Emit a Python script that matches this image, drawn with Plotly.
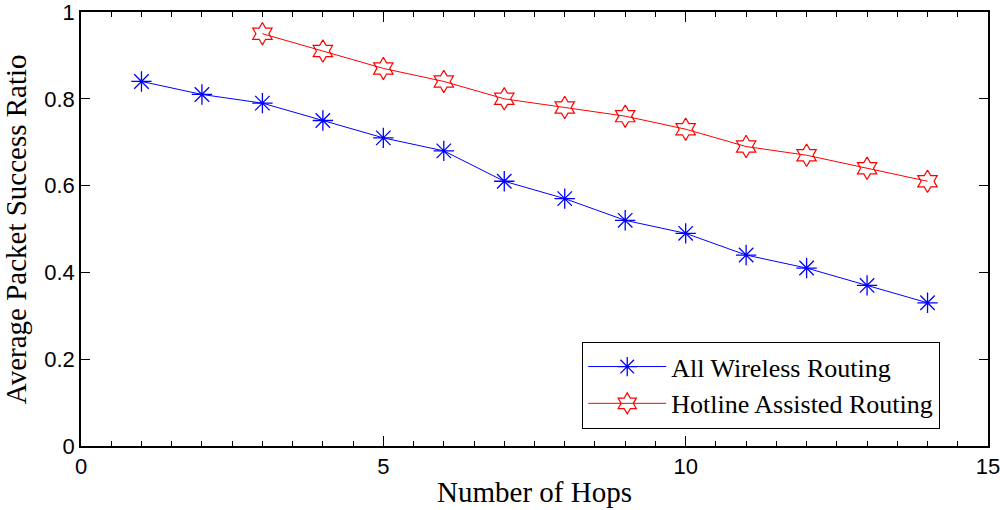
import plotly.graph_objects as go

# hops
hops_wireless = [1, 2, 3, 4, 5, 6, 7, 8, 9, 10, 11, 12, 13, 14]
hops_hotline = [3, 4, 5, 6, 7, 8, 9, 10, 11, 12, 13, 14]

# average packet success ratio
ratio_wireless = [0.84, 0.81, 0.79, 0.75, 0.71, 0.68, 0.61, 0.57, 0.52, 0.49, 0.44, 0.41, 0.37, 0.33]
ratio_hotline = [0.95, 0.91, 0.87, 0.84, 0.80, 0.78, 0.76, 0.73, 0.69, 0.67, 0.64, 0.61]

x_ticks = [0, 5, 10, 15]
y_ticks = [0, 0.2, 0.4, 0.6, 0.8, 1]
y_labels = ["0", "0.2", "0.4", "0.6", "0.8", "1"]

SERIF = "Liberation Serif, Times New Roman, serif"
SANS = "Liberation Sans, Arial, sans-serif"

fig = go.Figure()

fig.add_trace(go.Scatter(
    x=hops_wireless, y=ratio_wireless,
    name="All Wireless Routing",
    mode="lines+markers",
    line=dict(color="#0000ff", width=1),
    marker=dict(symbol="asterisk-open", size=17, color="#0000ff",
                line=dict(color="#0000ff", width=1.3)),
))

fig.add_trace(go.Scatter(
    x=hops_hotline, y=ratio_hotline,
    name="Hotline Assisted Routing",
    mode="lines+markers",
    line=dict(color="#ff0000", width=1),
    marker=dict(symbol="hexagram-open", size=17, color="#ff0000",
                line=dict(color="#ff0000", width=1.2)),
))

axis_common = dict(
    showgrid=False, zeroline=False, automargin=False,
    showline=True, linecolor="black", linewidth=1.5,
    mirror="ticks", ticks="inside", tickcolor="black", tickwidth=1.3,
    ticklabeloverflow="allow",
    tickfont=dict(family=SANS, size=22, color="black"),
)

fig.update_xaxes(
    range=[0, 15], tickvals=x_ticks, ticklen=10,
    minor=dict(dtick=0.5, ticks="inside", ticklen=5, tickcolor="black", tickwidth=1.3),
    title=dict(text="Number of Hops", standoff=4,
               font=dict(family=SERIF, size=29, color="black")),
    **axis_common,
)
fig.update_yaxes(
    range=[0, 1], tickvals=y_ticks, ticktext=y_labels, ticklen=9,
    **axis_common,
)

# y title as an annotation so it can sit close to the page edge like the original
fig.add_annotation(
    text="Average Packet Success Ratio",
    xref="paper", yref="paper", x=-0.0715, y=0.5,
    xanchor="center", yanchor="middle", textangle=-90, showarrow=False,
    font=dict(family=SERIF, size=29, color="black"),
)

fig.update_layout(
    template="none",
    width=1000, height=510,
    margin=dict(l=81, r=12, t=12, b=64),
    plot_bgcolor="white", paper_bgcolor="white",
    showlegend=True,
    legend=dict(
        x=0.947, y=0.240, xanchor="right", yanchor="top",
        bordercolor="black", borderwidth=1.3, bgcolor="white",
        font=dict(family=SERIF, size=26, color="black"),
        itemwidth=78, tracegroupgap=0,
    ),
)

# drop the default body margin so the figure fills the window exactly
fig.write_html("out.html", config={"displayModeBar": False},
               post_script="document.body.style.margin='0';")
